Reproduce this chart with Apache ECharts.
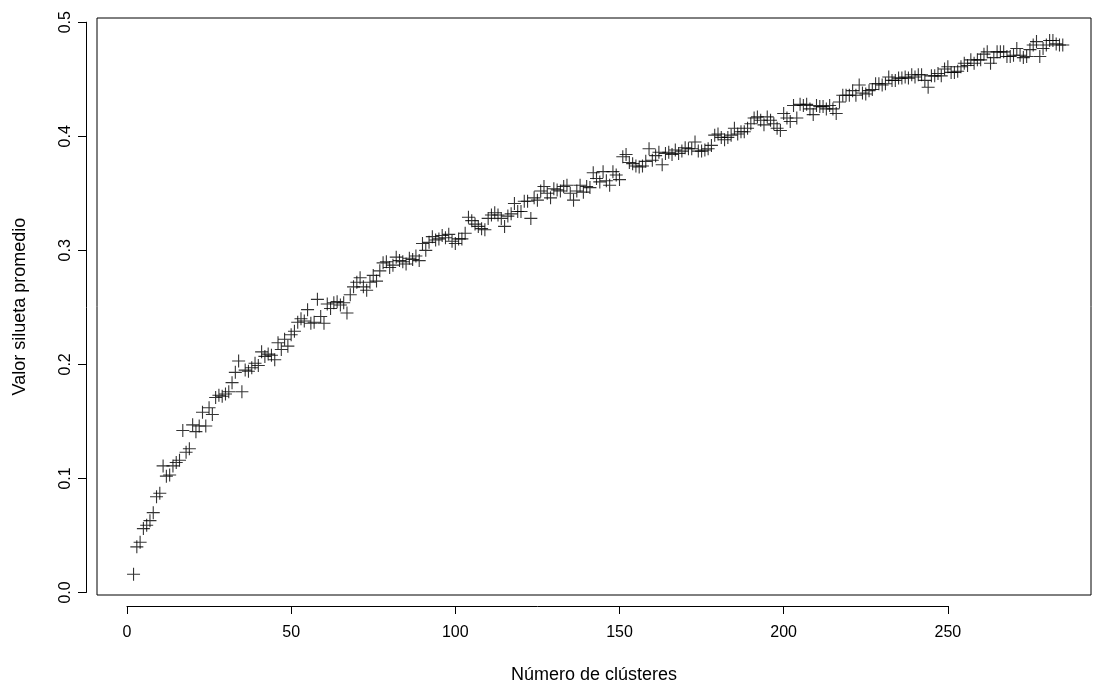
<!DOCTYPE html>
<html>
<head>
<meta charset="utf-8">
<script src="https://cdn.jsdelivr.net/npm/echarts@6/dist/echarts.min.js"></script>
<style>
  html, body { margin: 0; padding: 0; background: #fff; }
  #chart { width: 1094px; height: 684px; }
</style>
</head>
<body>
<div id="chart"></div>
<script>
// Average silhouette value for each number of clusters k = 2 .. 285
const firstK = 2;
const silhouette = [
  0.016, 0.040, 0.044, 0.056, 0.059, 0.063, 0.070, 0.084, 0.087, 0.111,
  0.102, 0.103, 0.111, 0.114, 0.116, 0.142, 0.123, 0.126, 0.147, 0.141,
  0.146, 0.158, 0.146, 0.162, 0.156, 0.171, 0.173, 0.172, 0.174, 0.176,
  0.184, 0.193, 0.203, 0.176, 0.195, 0.194, 0.197, 0.201, 0.199, 0.211,
  0.207, 0.209, 0.208, 0.204, 0.219, 0.213, 0.222, 0.216, 0.226, 0.229,
  0.237, 0.240, 0.238, 0.248, 0.236, 0.237, 0.257, 0.242, 0.236, 0.253,
  0.249, 0.254, 0.255, 0.252, 0.254, 0.245, 0.261, 0.268, 0.272, 0.276,
  0.268, 0.265, 0.272, 0.278, 0.273, 0.282, 0.289, 0.290, 0.285, 0.287,
  0.294, 0.291, 0.290, 0.288, 0.293, 0.292, 0.295, 0.291, 0.306, 0.300,
  0.307, 0.312, 0.309, 0.310, 0.313, 0.311, 0.314, 0.308, 0.306, 0.310,
  0.310, 0.315, 0.329, 0.326, 0.323, 0.321, 0.319, 0.318, 0.328, 0.331,
  0.333, 0.331, 0.328, 0.321, 0.330, 0.332, 0.341, 0.334, 0.334, 0.343,
  0.343, 0.328, 0.346, 0.344, 0.352, 0.356, 0.350, 0.346, 0.354, 0.353,
  0.352, 0.356, 0.357, 0.350, 0.344, 0.352, 0.357, 0.351, 0.356, 0.355,
  0.368, 0.363, 0.360, 0.369, 0.361, 0.357, 0.369, 0.366, 0.362, 0.382,
  0.384, 0.377, 0.376, 0.374, 0.373, 0.374, 0.378, 0.389, 0.379, 0.383,
  0.386, 0.375, 0.385, 0.386, 0.384, 0.388, 0.385, 0.387, 0.390, 0.389,
  0.389, 0.395, 0.387, 0.387, 0.388, 0.389, 0.392, 0.401, 0.402, 0.399,
  0.397, 0.399, 0.401, 0.407, 0.402, 0.404, 0.404, 0.407, 0.411, 0.416,
  0.417, 0.414, 0.410, 0.417, 0.414, 0.411, 0.407, 0.405, 0.420, 0.416,
  0.413, 0.427, 0.416, 0.428, 0.427, 0.428, 0.424, 0.419, 0.427, 0.426,
  0.426, 0.424, 0.427, 0.424, 0.420, 0.430, 0.436, 0.436, 0.436, 0.440,
  0.436, 0.445, 0.438, 0.437, 0.440, 0.441, 0.446, 0.446, 0.445, 0.446,
  0.452, 0.449, 0.449, 0.451, 0.451, 0.452, 0.451, 0.454, 0.452, 0.454,
  0.454, 0.449, 0.443, 0.453, 0.453, 0.455, 0.453, 0.459, 0.461, 0.456,
  0.456, 0.457, 0.461, 0.464, 0.462, 0.467, 0.464, 0.467, 0.467, 0.472,
  0.474, 0.464, 0.469, 0.474, 0.474,
  0.474, 0.470, 0.470, 0.471, 0.477, 0.471, 0.469, 0.470, 0.476, 0.480,
  0.483, 0.470, 0.477, 0.480, 0.484, 0.484, 0.481, 0.480, 0.480
];
const xTicks = [0, 50, 100, 150, 200, 250];
const yTicks = [0.0, 0.1, 0.2, 0.3, 0.4, 0.5];
const xTitle = 'Número de clústeres';
const yTitle = 'Valor silueta promedio';

const points = silhouette.map((v, i) => [firstK + i, v]);

const font = 'Liberation Sans, Arial, sans-serif';
const ink = '#000';

// Plot box and its data range
const box = { left: 97, top: 18, width: 994, height: 577 };
const xRange = [-9.13, 293.6];
const yRange = [-0.0022, 0.5037];
const axisGap = 11;   // axes sit a little outside the box

// Linear placement of a value along the box, matching the main grid's scale
const xPx = v => box.left + (v - xRange[0]) / (xRange[1] - xRange[0]) * box.width;
const yPx = v => box.top + (yRange[1] - v) / (yRange[1] - yRange[0]) * box.height;

// The axis strips cover only the span from the first to the last tick
const xAxisLeft = xPx(xTicks[0]);
const xAxisWidth = xPx(xTicks[xTicks.length - 1]) - xAxisLeft;
const yAxisTop = yPx(yTicks[yTicks.length - 1]);
const yAxisHeight = yPx(yTicks[0]) - yAxisTop;
const xAxisY = box.top + box.height + axisGap;
const yAxisX = box.left - axisGap;

const hidden = { show: false };
const chart = echarts.init(document.getElementById('chart'), null, { renderer: 'canvas' });

chart.setOption({
  animation: false,
  backgroundColor: '#ffffff',
  grid: [
    { left: box.left, top: box.top, width: box.width, height: box.height, outerBoundsMode: 'none',
      show: true, borderColor: ink, borderWidth: 1, backgroundColor: 'transparent' },
    { left: xAxisLeft, top: xAxisY - 1, width: xAxisWidth, height: 1, outerBoundsMode: 'none' },
    { left: yAxisX, top: yAxisTop, width: 1, height: yAxisHeight, outerBoundsMode: 'none' }
  ],
  xAxis: [
    // main scale; carries the title so it is centred under the box
    { gridIndex: 0, type: 'value', min: xRange[0], max: xRange[1],
      axisLine: { show: false, onZero: false }, axisTick: hidden, axisLabel: hidden, splitLine: hidden,
      name: xTitle, nameLocation: 'middle', nameGap: 71,
      nameTextStyle: { color: ink, fontFamily: font, fontSize: 18 } },
    // tick axis below the box
    { gridIndex: 1, type: 'value', min: xTicks[0], max: xTicks[xTicks.length - 1], interval: 50,
      position: 'bottom',
      axisLine: { show: true, onZero: false, lineStyle: { color: ink, width: 1 } },
      axisTick: { show: true, length: 8, lineStyle: { color: ink, width: 1 } },
      axisLabel: { show: true, color: ink, fontFamily: font, fontSize: 16, margin: 19,
        showMinLabel: true, showMaxLabel: true },
      splitLine: hidden },
    { gridIndex: 2, type: 'value', min: 0, max: 1,
      axisLine: hidden, axisTick: hidden, axisLabel: hidden, splitLine: hidden }
  ],
  yAxis: [
    { gridIndex: 0, type: 'value', min: yRange[0], max: yRange[1],
      axisLine: { show: false, onZero: false }, axisTick: hidden, axisLabel: hidden, splitLine: hidden,
      name: yTitle, nameLocation: 'middle', nameGap: 68,
      nameTextStyle: { color: ink, fontFamily: font, fontSize: 18 } },
    { gridIndex: 1, type: 'value', min: 0, max: 1,
      axisLine: hidden, axisTick: hidden, axisLabel: hidden, splitLine: hidden },
    // tick axis left of the box
    { gridIndex: 2, type: 'value', min: yTicks[0], max: yTicks[yTicks.length - 1], interval: 0.1,
      position: 'left',
      axisLine: { show: true, onZero: false, lineStyle: { color: ink, width: 1 } },
      axisTick: { show: true, length: 8, lineStyle: { color: ink, width: 1 } },
      axisLabel: { show: true, rotate: 90, color: ink, fontFamily: font, fontSize: 16, margin: 12,
        showMinLabel: true, showMaxLabel: true, formatter: v => v.toFixed(1) },
      splitLine: hidden }
  ],
  series: [{
    type: 'scatter',
    xAxisIndex: 0, yAxisIndex: 0,
    data: points,
    symbol: 'path://M0,-1L0,1M-1,0L1,0',
    symbolSize: 13,
    itemStyle: { color: 'transparent', borderColor: ink, borderWidth: 1.1 },
    emphasis: { disabled: true }
  }]
});
</script>
</body>
</html>
